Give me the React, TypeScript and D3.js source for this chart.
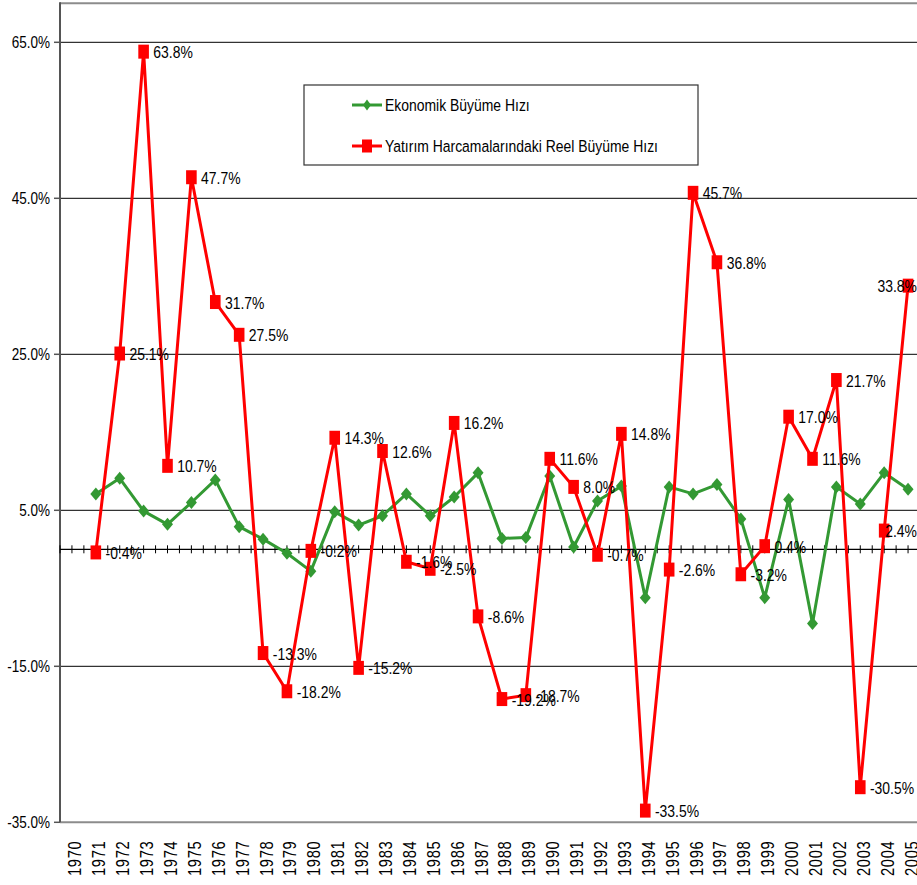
import React from "react";
import * as d3 from "d3";

const years: string[] = d3.range(1970, 2006).map(String);

const growth: (number | null)[] = [
  null, 7.1, 9.1, 4.9, 3.2, 6.0, 8.9, 2.9, 1.3, -0.5,
  -2.8, 4.8, 3.1, 4.3, 7.1, 4.3, 6.7, 9.8, 1.4, 1.5,
  9.4, 0.3, 6.2, 8.1, -6.2, 8.0, 7.1, 8.3, 3.9, -6.2,
  6.4, -9.5, 8.0, 5.8, 9.8, 7.7,
];

const investment: (number | null)[] = [
  null, -0.4, 25.1, 63.8, 10.7, 47.7, 31.7, 27.5, -13.3, -18.2,
  -0.2, 14.3, -15.2, 12.6, -1.6, -2.5, 16.2, -8.6, -19.2, -18.7,
  11.6, 8.0, -0.7, 14.8, -33.5, -2.6, 45.7, 36.8, -3.2, 0.4,
  17.0, 11.6, 21.7, -30.5, 2.4, 33.8,
];

const yTicks: number[] = [-35, -15, 5, 25, 45, 65];

const seriesNames: string[] = [
  "Ekonomik Büyüme Hızı",
  "Yatırım Harcamalarındaki Reel Büyüme Hızı",
];

const W = 917;
const H = 885;
const left = 60;
const right = 920;
const top = 3.3;
const bottom = 822.3;
const FONT = "'Liberation Sans', Arial, sans-serif";
const SX = 0.82;
const GREEN = "#339933";
const RED = "#FF0000";

function NText(props: {
  x: number;
  y: number;
  size: number;
  anchor?: string;
  children: React.ReactNode;
}) {
  return (
    <g transform={`translate(${props.x},${props.y}) scale(${SX},1)`}>
      <text
        x={0}
        y={0}
        fontFamily={FONT}
        fontSize={props.size}
        textAnchor={props.anchor || "start"}
        fill="#000"
      >
        {props.children}
      </text>
    </g>
  );
}

export default function App() {
  const x = d3.scaleBand<string>().domain(years).range([left, right]).padding(0);
  const bw = x.bandwidth();
  const cx = (i: number) => (x(years[i]) as number) + bw / 2;
  const y = d3.scaleLinear().domain([-35, 70]).range([bottom, top]);

  const line = d3
    .line<number | null>()
    .defined((d) => d !== null)
    .x((_, i) => cx(i))
    .y((d) => y(d as number));

  const halfTicks = d3.range(0, years.length * 2 + 1).map((k) => left + (k * bw) / 2);
  const fmt = (v: number) => v.toFixed(1) + "%";
  const labelWidth = (s: string) => s.length * 17 * 0.5 * SX + 4;

  const diamond = (px: number, py: number, w: number, h: number) =>
    `M${px},${py - h / 2}L${px + w / 2},${py}L${px},${py + h / 2}L${px - w / 2},${py}Z`;

  return (
    <svg
      width={W}
      height={H}
      style={{ position: "absolute", left: 0, top: 0, background: "#fff" }}
    >
      <rect x={0} y={0} width={W} height={H} fill="#fff" />
      {/* gridlines */}
      {yTicks
        .filter((t) => t !== -35)
        .map((t) => (
          <line key={t} x1={left} x2={W} y1={y(t)} y2={y(t)} stroke="#000" strokeWidth={1} />
        ))}
      {/* borders */}
      <line x1={left} x2={W} y1={top} y2={top} stroke="#8c8c8c" strokeWidth={2} />
      <line x1={left} x2={W} y1={bottom} y2={bottom} stroke="#8c8c8c" strokeWidth={2} />
      <line x1={left} x2={left} y1={top - 1} y2={bottom} stroke="#555" strokeWidth={2} />
      {/* y ticks + labels */}
      {yTicks.map((t) => (
        <g key={"yt" + t}>
          <line x1={left - 6} x2={left} y1={y(t)} y2={y(t)} stroke="#555" strokeWidth={1.5} />
          <NText x={50} y={y(t) + 6} size={16.5} anchor="end">
            {fmt(t)}
          </NText>
        </g>
      ))}
      {/* zero axis */}
      <line x1={left} x2={W} y1={y(0)} y2={y(0)} stroke="#000" strokeWidth={1.3} />
      {halfTicks.map((tx, k) => (
        <line key={"zt" + k} x1={tx} x2={tx} y1={y(0) - 4} y2={y(0) + 4} stroke="#000" strokeWidth={1} />
      ))}
      {/* x labels */}
      {years.map((yr, i) => (
        <g key={"xl" + yr} transform={`translate(${cx(i) + 3},876) rotate(-90) scale(${SX},1)`}>
          <text
            x={0}
            y={0}
            dy="0.36em"
            fontFamily={FONT}
            fontSize={18}
            letterSpacing={0.8}
            fill="#000"
          >
            {yr}
          </text>
        </g>
      ))}
      {/* green series */}
      <path d={line(growth) || ""} fill="none" stroke={GREEN} strokeWidth={3} strokeLinejoin="round" />
      {growth.map((v, i) =>
        v === null ? null : (
          <path key={"gd" + i} d={diamond(cx(i), y(v), 11, 13)} fill={GREEN} />
        )
      )}
      {/* red series */}
      <path d={line(investment) || ""} fill="none" stroke={RED} strokeWidth={3} strokeLinejoin="round" />
      {investment.map((v, i) =>
        v === null ? null : (
          <rect key={"rs" + i} x={cx(i) - 5.3} y={y(v) - 7} width={10.6} height={14} fill={RED} />
        )
      )}
      {/* data labels */}
      {investment.map((v, i) => {
        if (v === null) return null;
        const s = fmt(v);
        const start = cx(i) + 9.7;
        const clamp = start + labelWidth(s) > W;
        return (
          <NText
            key={"dl" + i}
            x={clamp ? 917 : start}
            y={y(v) + 6.5}
            size={17}
            anchor={clamp ? "end" : "start"}
          >
            {s}
          </NText>
        );
      })}
      {/* legend */}
      <rect x={304} y={85} width={394} height={80} fill="#fff" stroke="#333" strokeWidth={1.2} />
      <line x1={352} x2={382} y1={105} y2={105} stroke={GREEN} strokeWidth={3} />
      <path d={diamond(367, 105, 8, 11)} fill={GREEN} />
      <NText x={385} y={111} size={17}>
        {seriesNames[0]}
      </NText>
      <line x1={352} x2={382} y1={146} y2={146} stroke={RED} strokeWidth={3} />
      <rect x={362} y={139.5} width={10} height={13} fill={RED} />
      <NText x={385} y={152} size={17}>
        {seriesNames[1]}
      </NText>
    </svg>
  );
}
